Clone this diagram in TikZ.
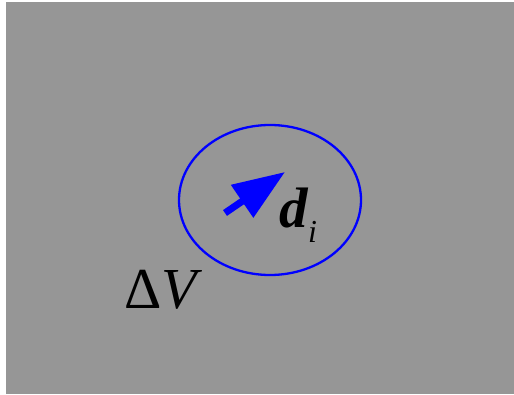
\documentclass[tikz,border=0pt]{standalone}
\usepackage{fontspec}
\setmainfont{Liberation Serif}
\usetikzlibrary{arrows.meta}
\definecolor{bggray}{RGB}{150,150,150}
\tikzset{
  region/.style={draw=blue, line width=2.3pt},
  dirarrow/.style={blue, line width=7pt, -{Triangle[length=52pt,width=38pt]}},
  lbl/.style={inner sep=0pt, anchor=base west}
}
\begin{document}
\begin{tikzpicture}[x=1pt,y=1pt]
  \useasboundingbox (0,0) rectangle (514,394);
  \fill[bggray] (6,0) rectangle (514,392);
  % small volume element
  \draw[region] (270,194) ellipse [x radius=91, y radius=75];
  \coordinate (tail) at (225,181);
  \coordinate (tip) at (285,222);
  \draw[dirarrow] (tail) -- (tip);
  \node[lbl] (d) at (279,166) {\fontsize{57}{60}\selectfont\textbf{\textit{d}}};
  \node[lbl] (i) at (308,151) {\fontsize{32}{34}\selectfont\textit{i}};
  \node[lbl] (dV) at (124,86) {\fontsize{58}{62}\selectfont Δ\textit{V}};
\end{tikzpicture}
\end{document}
